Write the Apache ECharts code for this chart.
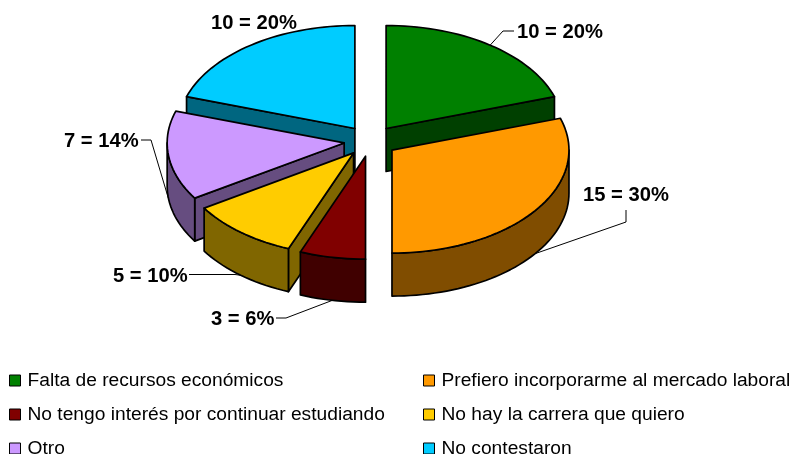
<!DOCTYPE html>
<html>
<head>
<meta charset="utf-8">
<script src="https://cdn.jsdelivr.net/npm/echarts@6/dist/echarts.min.js"></script>
<style>
  html, body { margin: 0; padding: 0; background: #fff; }
  #chart { width: 793px; height: 454px; }
</style>
</head>
<body>
<div id="chart"></div>
<script>
// datos de la encuesta
const categories = [
  'Falta de recursos económicos',
  'Prefiero incorporarme al mercado laboral',
  'No tengo interés por continuar estudiando',
  'No hay la carrera que quiero',
  'Otro',
  'No contestaron'
]
const sliceValues = [10, 15, 3, 5, 7, 10]
const slicePercents = [20, 30, 6, 10, 14, 20]

// colores: cara superior y pared
const topColors = ['#008000', '#FF9900', '#800000', '#FFCC00', '#CC99FF', '#00CCFF']
const wallColors = ['#004000', '#804D00', '#400000', '#806600', '#664D80', '#006680']

// posición de cada etiqueta y codo de su línea guía
const labelPos = [[517, 32], [583, 195], [211, 319], [113, 276], [64, 141], [211, 23]]
const leaderBend = [[[503, 31], [514, 31]], [[626, 222], [626, 210]], [[286, 318], [276, 318]], [[235, 274.5], [189, 274.5]], [[151, 140], [141, 140]], null]

// geometría del pastel
const CX = 370.5
const CY = 141
const RX = 177
const RY = 103
const DEPTH = 43
const EXPLODE = 0.15

const total = sliceValues.reduce((a, b) => a + b, 0)
const rad = (deg) => deg * Math.PI / 180

// ángulos en sentido horario desde las 12
let acc = 0
const slices = sliceValues.map((v, i) => {
  const start = acc / total * 360
  acc += v
  const end = acc / total * 360
  const mid = (start + end) / 2
  return {
    i, start, end, mid,
    ox: CX + EXPLODE * RX * Math.sin(rad(mid)),
    oy: CY - EXPLODE * RY * Math.cos(rad(mid))
  }
})

const rimPoint = (s, deg, drop) => [
  s.ox + RX * Math.sin(rad(deg)),
  s.oy - RY * Math.cos(rad(deg)) + drop
]

const arcPoints = (s, from, to, drop) => {
  const pts = []
  const steps = Math.max(2, Math.ceil((to - from) / 2))
  for (let k = 0; k <= steps; k++) {
    pts.push(rimPoint(s, from + (to - from) * k / steps, drop))
  }
  return pts
}

const faceStyle = (fill) => ({ fill, stroke: '#000', lineWidth: 1.7, lineJoin: 'round' })

const renderSlice = (s) => () => {
  const children = []
  const wall = wallColors[s.i]
  // línea guía, queda por debajo de la porción
  if (leaderBend[s.i]) {
    const lower = Math.cos(rad(s.mid)) < 0
    const anchor = rimPoint(s, s.mid, lower ? DEPTH : 0)
    children.push({
      type: 'polyline',
      shape: { points: [anchor].concat(leaderBend[s.i]) },
      style: { fill: 'none', stroke: '#000', lineWidth: 1 }
    })
  }
  // pared radial, solo la que mira hacia abajo
  const radial = (deg) => {
    const p = rimPoint(s, deg, 0)
    const q = rimPoint(s, deg, DEPTH)
    children.push({
      type: 'polygon',
      shape: { points: [[s.ox, s.oy], p, q, [s.ox, s.oy + DEPTH]] },
      style: faceStyle(wall)
    })
  }
  if (s.end < 180) radial(s.end)
  if (s.start > 180) radial(s.start)
  // pared exterior entre 90 y 270 grados
  const from = Math.max(s.start, 90)
  const to = Math.min(s.end, 270)
  if (to > from) {
    children.push({
      type: 'polygon',
      shape: { points: arcPoints(s, from, to, 0).concat(arcPoints(s, from, to, DEPTH).reverse()) },
      style: faceStyle(wall)
    })
  }
  // cara superior
  children.push({
    type: 'polygon',
    shape: { points: [[s.ox, s.oy]].concat(arcPoints(s, s.start, s.end, 0)) },
    style: faceStyle(topColors[s.i])
  })
  // etiqueta
  children.push({
    type: 'text',
    style: {
      x: labelPos[s.i][0],
      y: labelPos[s.i][1],
      text: `${sliceValues[s.i]} = ${slicePercents[s.i]}%`,
      fill: '#000',
      font: 'bold 20.2px "Liberation Sans", Arial, sans-serif',
      align: 'left',
      verticalAlign: 'middle'
    }
  })
  return { type: 'group', children }
}

// de atrás hacia adelante
const drawOrder = slices.slice().sort((a, b) => Math.abs(b.mid - 180) - Math.abs(a.mid - 180))

const legendBase = {
  orient: 'vertical',
  top: 366,
  height: 88,
  itemWidth: 11,
  itemHeight: 11,
  itemGap: 15,
  selectedMode: false,
  icon: 'rect',
  itemStyle: { borderColor: '#000', borderWidth: 1 },
  textStyle: { color: '#000', fontSize: 19.2, fontFamily: '"Liberation Sans", Arial, sans-serif', padding: [0, 0, 0, 2] }
}

const chart = echarts.init(document.getElementById('chart'), null, { renderer: 'canvas' })
chart.setOption({
  backgroundColor: '#fff',
  animation: false,
  legend: [
    Object.assign({}, legendBase, { left: 4, data: categories.filter((c, i) => i % 2 === 0) }),
    Object.assign({}, legendBase, { left: 418, data: categories.filter((c, i) => i % 2 === 1) })
  ],
  series: drawOrder.map((s) => ({
    type: 'custom',
    name: categories[s.i],
    coordinateSystem: 'none',
    silent: true,
    itemStyle: { color: topColors[s.i] },
    renderItem: renderSlice(s),
    data: [[sliceValues[s.i]]]
  }))
})
</script>
</body>
</html>
